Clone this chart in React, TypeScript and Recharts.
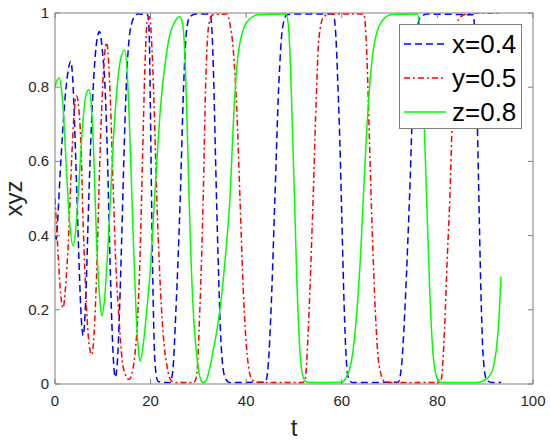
import { LineChart, Line, XAxis, YAxis } from "recharts";

const BLUE = "#0000FF";
const RED = "#FF0000";
const GREEN = "#00FF00";
const AXIS = "#808080";
const TEXT = "#262626";
const FONT = "Arial, 'Liberation Sans', sans-serif";

const tTicks = [0, 20, 40, 60, 80, 100];
const vTicks = [0, 0.2, 0.4, 0.6, 0.8, 1];

const legendLabels = ["x=0.4", "y=0.5", "z=0.8"];

// [t, value]
const xSeries: [number, number][] = [
  [0, 0.4], [0.25, 0.39], [0.5, 0.43], [1.05, 0.56], [1.6, 0.68], [2.1, 0.77], [2.7, 0.84], [3.3, 0.87],
  [3.8, 0.8], [4.2, 0.66], [4.6, 0.5], [5.0, 0.34], [5.4, 0.2], [5.9, 0.13], [6.4, 0.22], [7.0, 0.47],
  [7.5, 0.66], [8.0, 0.8], [8.6, 0.91], [9.3, 0.95], [9.9, 0.9], [10.5, 0.79], [11.0, 0.6], [11.4, 0.39],
  [11.8, 0.2], [12.2, 0.07], [12.6, 0.018], [13.1, 0.07], [13.5, 0.2], [13.95, 0.39], [14.5, 0.65],
  [15.0, 0.83], [15.5, 0.93], [16.0, 0.97], [16.6, 0.99], [17.3, 0.997], [19.4, 0.995], [19.7, 0.95],
  [19.95, 0.75], [20.2, 0.5], [20.55, 0.22], [20.9, 0.06], [21.5, 0.008], [22.5, 0.004], [24.0, 0.004],
  [24.6, 0.03], [25.3, 0.2], [26.2, 0.5], [26.9, 0.8], [27.5, 0.95], [28.2, 0.99], [29.5, 0.997],
  [32.4, 0.997], [32.8, 0.96], [33.2, 0.82], [33.6, 0.6], [34.1, 0.35], [34.7, 0.12], [35.5, 0.02],
  [36.5, 0.004], [44.0, 0.005], [44.6, 0.05], [45.2, 0.2], [46.0, 0.5], [46.8, 0.8], [47.6, 0.96],
  [48.5, 0.995], [50.0, 0.997], [58.2, 0.997], [58.7, 0.95], [59.2, 0.8], [59.6, 0.65], [60.0, 0.45],
  [60.4, 0.25], [60.8, 0.1], [61.3, 0.02], [62.2, 0.004], [71.8, 0.005], [72.5, 0.05], [73.2, 0.2],
  [73.8, 0.38], [74.3, 0.55], [74.8, 0.75], [75.5, 0.93], [76.5, 0.99], [78.0, 0.997], [87.5, 0.995],
  [88.1, 0.85], [88.6, 0.55], [89.1, 0.25], [89.6, 0.07], [90.3, 0.01], [91.5, 0.004], [93.3, 0.004],
];

const ySeries: [number, number][] = [
  [0, 0.5], [0.35, 0.42], [0.7, 0.34], [1.2, 0.24], [1.7, 0.205], [2.2, 0.26], [2.8, 0.385], [3.5, 0.61],
  [4.0, 0.73], [4.5, 0.776], [5.0, 0.74], [5.4, 0.655], [5.9, 0.43], [6.6, 0.205], [7.1, 0.11],
  [7.7, 0.079], [8.2, 0.14], [8.7, 0.295], [9.4, 0.61], [10.1, 0.834], [10.8, 0.92], [11.5, 0.79],
  [12.2, 0.52], [12.7, 0.33], [13.25, 0.205], [14.3, 0.043], [15.5, 0.012], [16.3, 0.04], [16.8, 0.09],
  [17.3, 0.18], [17.8, 0.35], [18.3, 0.6], [18.8, 0.85], [19.3, 0.98], [19.8, 0.99], [20.3, 0.9],
  [20.8, 0.72], [21.3, 0.5], [21.9, 0.3], [22.6, 0.14], [23.4, 0.05], [24.4, 0.008], [25.5, 0.004],
  [29.0, 0.004], [29.6, 0.02], [30.3, 0.2], [31.0, 0.5], [31.5, 0.8], [32.2, 0.97], [33.0, 0.995],
  [36.0, 0.997], [36.6, 0.97], [37.3, 0.9], [38.0, 0.75], [38.7, 0.5], [39.4, 0.25], [40.2, 0.08],
  [41.2, 0.012], [42.5, 0.004], [51.8, 0.004], [52.3, 0.01], [53.0, 0.15], [53.6, 0.35], [54.0, 0.5],
  [54.6, 0.75], [55.2, 0.93], [56.2, 0.99], [57.5, 0.997], [64.6, 0.997], [65.2, 0.9], [65.8, 0.65],
  [66.4, 0.4], [67.0, 0.2], [67.8, 0.05], [69.0, 0.006], [70.0, 0.004], [80.3, 0.004], [80.8, 0.012],
  [81.5, 0.15], [82.1, 0.35], [82.6, 0.5], [83.2, 0.75], [83.8, 0.93], [84.5, 0.985], [86.0, 0.997],
  [88.0, 1], [93.3, 1],
];

const zSeries: [number, number][] = [
  [0, 0.8], [0.4, 0.818], [0.9, 0.825], [1.3, 0.8], [1.7, 0.744], [2.45, 0.564], [3.1, 0.43], [3.8, 0.372],
  [4.3, 0.41], [4.9, 0.52], [5.9, 0.717], [6.5, 0.78], [7.1, 0.793], [7.6, 0.75], [8.0, 0.655],
  [8.7, 0.385], [9.4, 0.224], [9.8, 0.183], [10.3, 0.22], [11.15, 0.385], [12.2, 0.655], [13.25, 0.834],
  [13.9, 0.885], [14.6, 0.9], [15.1, 0.84], [15.7, 0.655], [16.4, 0.385], [17.1, 0.16], [17.5, 0.085],
  [17.8, 0.062], [18.5, 0.11], [19.2, 0.2], [19.9, 0.3], [20.6, 0.45], [21.3, 0.6], [22.1, 0.75],
  [23.0, 0.86], [24.0, 0.94], [25.0, 0.975], [26.1, 0.99], [26.7, 0.97], [27.2, 0.88], [27.6, 0.72],
  [28.0, 0.52], [28.5, 0.32], [29.1, 0.16], [29.8, 0.06], [30.4, 0.015], [31.0, 0.004], [31.7, 0.012],
  [32.4, 0.045], [33.1, 0.09], [33.8, 0.14], [34.5, 0.2], [35.2, 0.28], [35.9, 0.38], [36.6, 0.5],
  [37.3, 0.7], [38.0, 0.85], [38.7, 0.92], [39.5, 0.96], [40.8, 0.985], [42.5, 0.995], [48.3, 0.997],
  [48.8, 0.97], [49.2, 0.88], [49.6, 0.72], [50.1, 0.5], [50.6, 0.28], [51.1, 0.12], [51.7, 0.03],
  [52.5, 0.006], [53.5, 0.004], [60.0, 0.005], [61.0, 0.02], [62.0, 0.06], [62.7, 0.13], [63.3, 0.22],
  [63.9, 0.34], [64.5, 0.5], [65.2, 0.68], [66.0, 0.83], [67.0, 0.93], [68.5, 0.98], [70.5, 0.996],
  [75.8, 0.997], [76.3, 0.96], [76.8, 0.85], [77.3, 0.68], [77.8, 0.48], [78.4, 0.25], [79.1, 0.08],
  [80.0, 0.015], [81.0, 0.004], [88.5, 0.004], [89.5, 0.008], [90.8, 0.02], [91.7, 0.045], [92.3, 0.09],
  [92.8, 0.16], [93.3, 0.29],
];

const toRows = (s: [number, number][]) => s.map(([t, v]) => ({ t, v }));

const series = [
  { name: legendLabels[0], data: toRows(xSeries), color: BLUE, dash: "7 4" },
  { name: legendLabels[1], data: toRows(ySeries), color: RED, dash: "6 3 2 3" },
  { name: legendLabels[2], data: toRows(zSeries), color: GREEN, dash: undefined as string | undefined },
];

const TICK_LEN = 5;

function BottomTick({ x, y, payload }: any) {
  return (
    <g>
      <line x1={x} y1={y} x2={x} y2={y - TICK_LEN} stroke={AXIS} />
      <text x={x} y={y + 22} textAnchor="middle" fontSize={15} fill={TEXT} fontFamily={FONT}>{payload.value}</text>
    </g>
  );
}
function TopTick({ x, y }: any) {
  return <line x1={x} y1={y} x2={x} y2={y + TICK_LEN} stroke={AXIS} />;
}
function LeftTick({ x, y, payload }: any) {
  return (
    <g>
      <line x1={x} y1={y} x2={x + TICK_LEN} y2={y} stroke={AXIS} />
      <text x={x - 6} y={y + 5} textAnchor="end" fontSize={15} fill={TEXT} fontFamily={FONT}>{payload.value}</text>
    </g>
  );
}
function RightTick({ x, y }: any) {
  return <line x1={x} y1={y} x2={x - TICK_LEN} y2={y} stroke={AXIS} />;
}

const XLabel = ({ viewBox }: any) => (
  <text x={viewBox.x + viewBox.width / 2} y={viewBox.y + 52} textAnchor="middle" fontSize={24} fill={TEXT} fontFamily={FONT}>t</text>
);
const YLabel = ({ viewBox }: any) => {
  const cx = viewBox.x + viewBox.width - 33;
  const cy = viewBox.y + viewBox.height / 2;
  return (
    <text x={cx} y={cy} transform={`rotate(-90, ${cx}, ${cy})`} textAnchor="middle" fontSize={24} fill={TEXT} fontFamily={FONT}>xyz</text>
  );
};

export default function App() {
  return (
    <div style={{ position: "absolute", left: 0, top: 0, width: 550, height: 443, background: "#fff", fontFamily: FONT }}>
      <LineChart width={550} height={443} margin={{ top: 12, right: 16, bottom: 58, left: 54 }}>
        {series.map(s => (
          <Line key={s.name} xAxisId="b" yAxisId="l" data={s.data} dataKey="v" type="monotone" stroke={s.color}
            strokeWidth={1.5} strokeDasharray={s.dash} dot={false} activeDot={false} isAnimationActive={false} />
        ))}
        <XAxis xAxisId="b" dataKey="t" type="number" domain={[0, 100]} ticks={tTicks} height={1} tickSize={0}
          tickMargin={0} stroke={AXIS} tick={<BottomTick />} label={XLabel} allowDataOverflow />
        <XAxis xAxisId="top" orientation="top" dataKey="t" type="number" domain={[0, 100]} ticks={tTicks} height={1}
          tickSize={0} tickMargin={0} stroke={AXIS} tick={<TopTick />} allowDataOverflow />
        <YAxis yAxisId="l" type="number" domain={[0, 1]} ticks={vTicks} width={1} tickSize={0} tickMargin={0}
          stroke={AXIS} tick={<LeftTick />} label={YLabel} allowDataOverflow />
        <YAxis yAxisId="right" orientation="right" type="number" domain={[0, 1]} ticks={vTicks} width={1}
          tickSize={0} tickMargin={0} stroke={AXIS} tick={<RightTick />} allowDataOverflow />
      </LineChart>

      {/* legend, drawn over the plot like MATLAB's */}
      <div style={{ position: "absolute", left: 399, top: 24, width: 123, height: 105, boxSizing: "border-box",
        border: `1px solid ${AXIS}`, background: "#fff", paddingTop: 2 }}>
        {series.map(s => (
          <div key={s.name} style={{ display: "flex", alignItems: "center", height: 34 }}>
            <svg width={46} height={6} style={{ marginLeft: 3 }}>
              <line x1={1} y1={3} x2={43} y2={3} stroke={s.color} strokeWidth={1.5} strokeDasharray={s.dash} />
            </svg>
            <span style={{ fontSize: 26, color: "#000", marginLeft: 3, lineHeight: "34px" }}>{s.name}</span>
          </div>
        ))}
      </div>
    </div>
  );
}
